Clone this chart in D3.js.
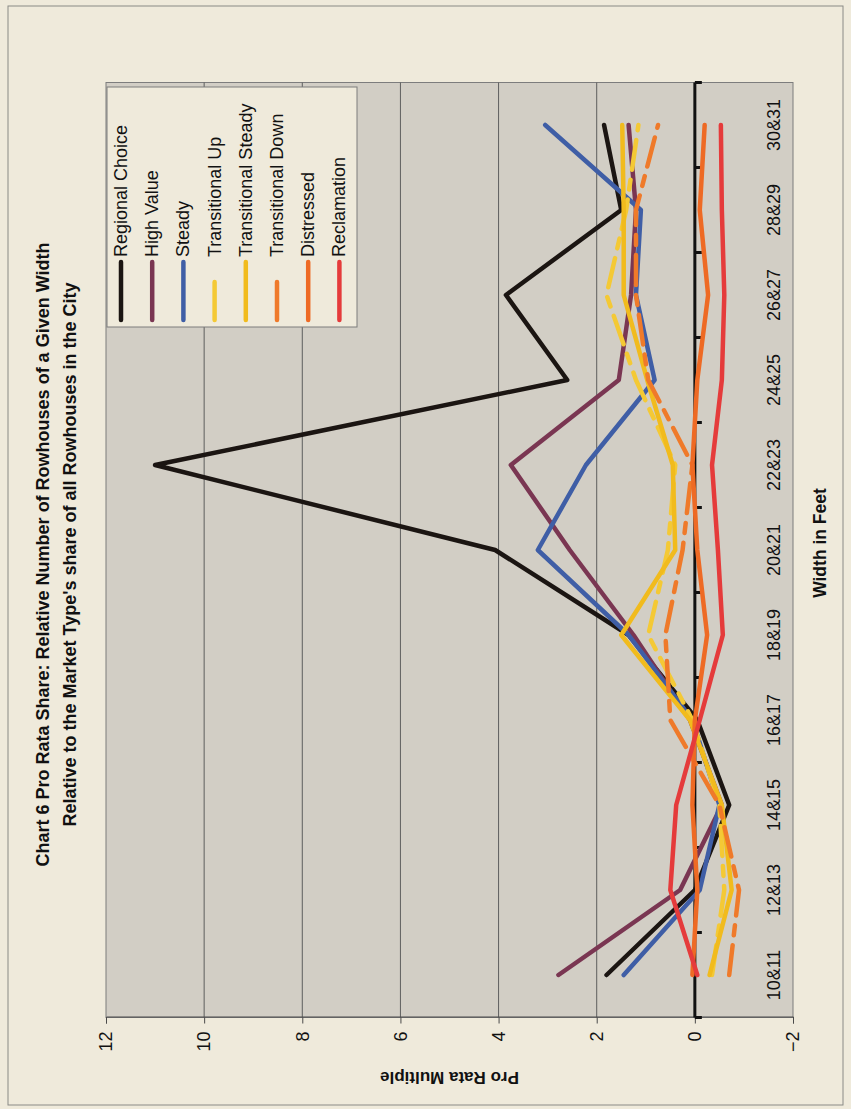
<!DOCTYPE html>
<html>
<head>
<meta charset="utf-8">
<script src="https://cdn.jsdelivr.net/npm/d3@7"></script>
<style>
  html, body { margin: 0; padding: 0; background: #efeadb; }
  svg { display: block; }
  text { font-family: "Liberation Sans", Arial, sans-serif; fill: #111; }
</style>
</head>
<body>
<svg id="chart" width="851" height="1109"></svg>
<script>
// Width categories (feet)
const categories = ["10&11","12&13","14&15","16&17","18&19","20&21","22&23","24&25","26&27","28&29","30&31"];

// Pro rata multiple per market type
const regionalChoice     = [1.8, 0.0, -0.7, -0.05, 1.35, 4.07, 11.0, 2.6, 3.85, 1.5, 1.85];
const highValue          = [2.78, 0.3, -0.55, 0.1, 1.25, 2.55, 3.75, 1.55, 1.3, 1.2, 1.35];
const steady             = [1.45, -0.1, -0.5, 0.05, 1.35, 3.2, 2.22, 0.82, 1.2, 1.1, 3.05];
const transitionalUp     = [-0.35, -0.6, -0.5, 0.05, 0.95, 0.55, 0.4, 1.2, 1.8, 1.4, 1.15];
const transitionalSteady = [-0.3, -0.75, -0.55, 0.1, 1.5, 0.4, 0.45, 0.97, 1.45, 1.45, 1.48];
const transitionalDown   = [-0.7, -0.9, -0.5, 0.5, 0.6, 0.25, 0.05, 0.95, 1.2, 1.2, 0.75];
const distressed         = [0.05, -0.05, 0.05, 0.0, -0.25, -0.05, 0.05, -0.05, -0.27, -0.1, -0.2];
const reclamation        = [-0.05, 0.5, 0.38, -0.1, -0.57, -0.47, -0.35, -0.55, -0.6, -0.55, -0.53];

const seriesNames = ["Regional Choice","High Value","Steady","Transitional Up","Transitional Steady","Transitional Down","Distressed","Reclamation"];
const seriesValues = [regionalChoice, highValue, steady, transitionalUp, transitionalSteady, transitionalDown, distressed, reclamation];
const seriesColors = ["#1b1512","#7a3652","#3f5ea6","#f4c935","#f1bb1d","#ef7a2a","#ee6a24","#e53b3b"];
const seriesDash   = [null, null, null, "30,10,10,10", null, "30,10,10,10", null, null];

const valueTicks = [-2, 0, 2, 4, 6, 8, 10, 12];

const titleLines = [
  "Chart 6  Pro Rata Share: Relative Number of Rowhouses of a Given Width",
  "Relative to the Market Type's share of all Rowhouses in the City"
];

// The chart is laid out in a 1109 x 851 frame and turned a quarter turn
const W = 1109, H = 851;
const svg = d3.select("#chart");
const g = svg.append("g").attr("transform", `translate(0,${W}) rotate(-90)`);

// page and outer frame
g.append("rect").attr("x", 0).attr("y", 0).attr("width", W).attr("height", H).attr("fill", "#efeadb");
g.append("rect").attr("x", 4).attr("y", 8).attr("width", 1099).attr("height", 835)
  .attr("fill", "none").attr("stroke", "#8a8a86").attr("stroke-width", 1);

const plot = { left: 91.5, right: 1026.5, top: 106, bottom: 793 };

const x = d3.scaleBand().domain(categories).range([plot.left, plot.right]).padding(0);
const y = d3.scaleLinear().domain([-2, 12]).range([plot.bottom, plot.top]);
const cx = c => x(c) + x.bandwidth() / 2;

// plot area
g.append("rect")
  .attr("x", plot.left).attr("y", plot.top)
  .attr("width", plot.right - plot.left).attr("height", plot.bottom - plot.top)
  .attr("fill", "#d2cec5").attr("stroke", "#7d7d7d").attr("stroke-width", 1);

// horizontal gridlines
g.append("g").selectAll("line")
  .data(valueTicks.filter(v => v !== 0 && v !== -2 && v !== 12))
  .join("line")
  .attr("x1", plot.left).attr("x2", plot.right)
  .attr("y1", d => y(d)).attr("y2", d => y(d))
  .attr("stroke", "#5e5e5e").attr("stroke-width", 1);

// value axis
const yAxis = g.append("g").attr("transform", `translate(${plot.left},0)`)
  .call(d3.axisLeft(y).tickValues(valueTicks).tickSize(6).tickPadding(8).tickFormat(d3.format("d")));
yAxis.select(".domain").attr("stroke", "#4a4a4a");
yAxis.selectAll(".tick line").attr("stroke", "#4a4a4a");
yAxis.selectAll("text").style("font-size", "18px").attr("fill", "#111");

// category axis along zero
const edges = categories.map(c => x(c)).concat([plot.right]);
const zeroY = y(0);
g.append("line")
  .attr("x1", plot.left).attr("x2", plot.right)
  .attr("y1", zeroY).attr("y2", zeroY)
  .attr("stroke", "#111").attr("stroke-width", 3);
g.append("g").selectAll("line").data(edges).join("line")
  .attr("x1", d => d).attr("x2", d => d)
  .attr("y1", zeroY).attr("y2", zeroY + 7)
  .attr("stroke", "#111").attr("stroke-width", 3);

// category labels
g.append("g").selectAll("text").data(categories).join("text")
  .attr("x", d => cx(d)).attr("y", 780)
  .attr("text-anchor", "middle")
  .style("font-size", "18px")
  .text(d => d);

// series lines
const line = d3.line()
  .x((d, i) => cx(categories[i]))
  .y(d => y(d));

g.append("g").selectAll("path").data(seriesValues).join("path")
  .attr("d", d => line(d))
  .attr("fill", "none")
  .attr("stroke", (d, i) => seriesColors[i])
  .attr("stroke-width", 4.5)
  .attr("stroke-linejoin", "round")
  .attr("stroke-linecap", "round")
  .attr("stroke-dasharray", (d, i) => seriesDash[i]);

// legend
const lg = g.append("g");
lg.append("rect")
  .attr("x", 782).attr("y", 107).attr("width", 240).attr("height", 250)
  .attr("fill", "#efeadb").attr("stroke", "#7d7d7d").attr("stroke-width", 1);
const rows = lg.selectAll("g.row").data(seriesNames).join("g")
  .attr("class", "row")
  .attr("transform", (d, i) => `translate(0,${121 + i * 31.2})`);
rows.append("line")
  .attr("x1", 789).attr("x2", 847).attr("y1", 0).attr("y2", 0)
  .attr("stroke", (d, i) => seriesColors[i])
  .attr("stroke-width", 4.5)
  .attr("stroke-linecap", "round")
  .attr("stroke-dasharray", (d, i) => seriesDash[i] ? "38,100" : null);
rows.append("text")
  .attr("x", 852).attr("y", 6)
  .style("font-size", "18px")
  .text(d => d);

// titles
g.append("g").selectAll("text").data(titleLines).join("text")
  .attr("x", W / 2).attr("y", (d, i) => 49 + i * 27)
  .attr("text-anchor", "middle")
  .style("font-size", "18px").style("font-weight", "bold")
  .text(d => d);

g.append("text")
  .attr("x", 566).attr("y", 826)
  .attr("text-anchor", "middle")
  .style("font-size", "17.5px").style("font-weight", "bold")
  .text("Width in Feet");

g.append("text")
  .attr("transform", `translate(37,${(plot.top + plot.bottom) / 2}) rotate(-90)`)
  .attr("text-anchor", "middle")
  .style("font-size", "17px").style("font-weight", "bold")
  .text("Pro Rata Multiple");
</script>
</body>
</html>
